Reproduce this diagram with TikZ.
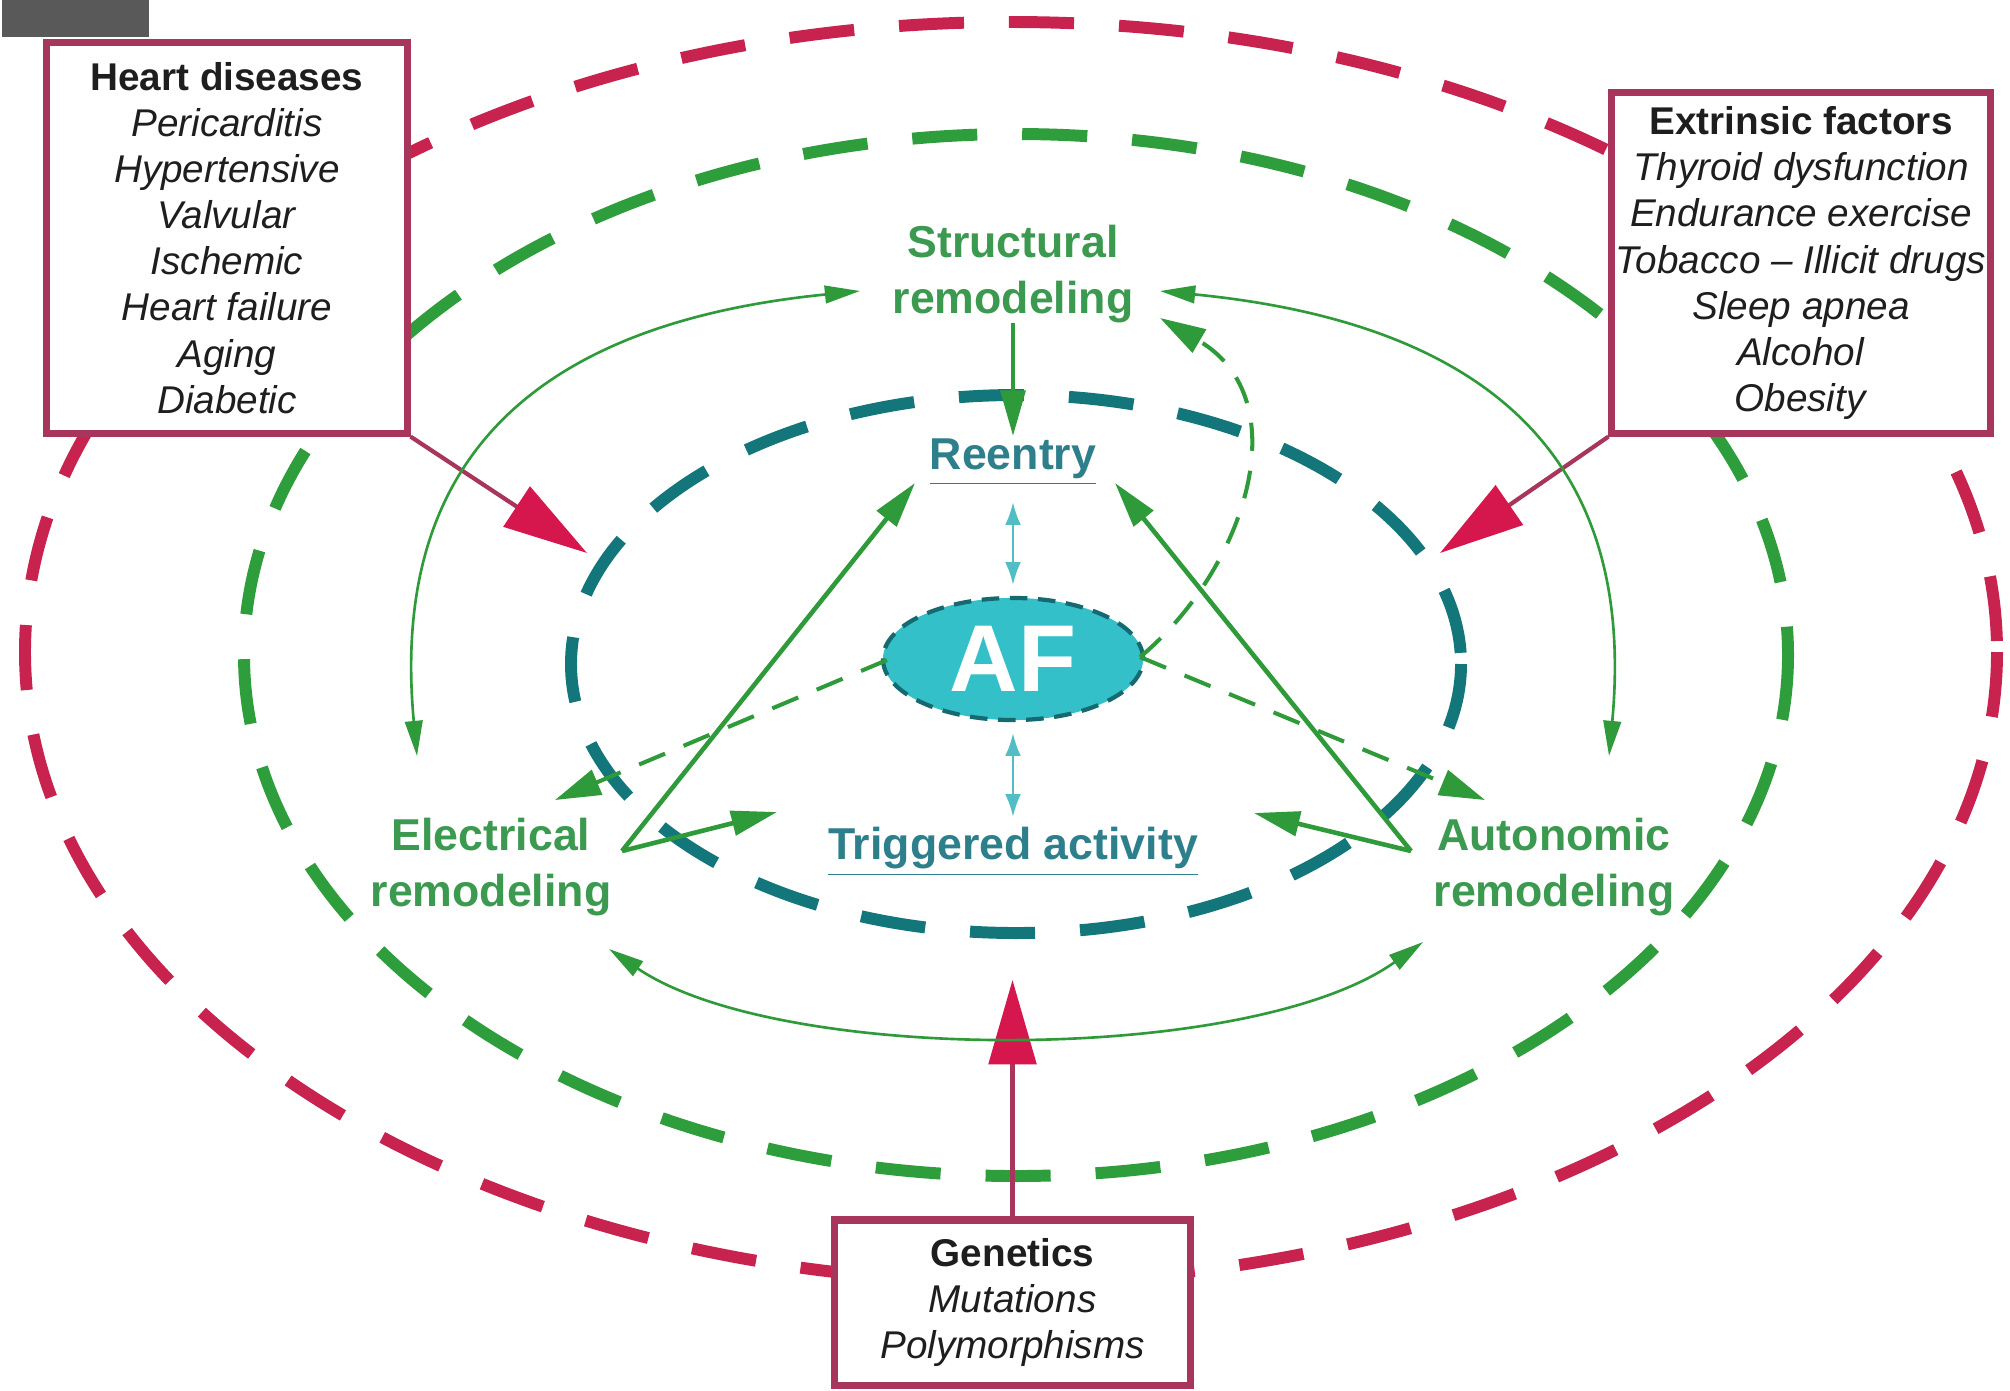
\documentclass[tikz,border=0pt]{standalone}
\usepackage{fontspec}
\setmainfont{Liberation Sans}
\usetikzlibrary{arrows.meta,shapes.geometric}
\definecolor{redd}{HTML}{C8234F}
\definecolor{boxred}{HTML}{A8365C}
\definecolor{headred}{HTML}{D5174D}
\definecolor{grn}{HTML}{2E9E3C}
\definecolor{grntxt}{HTML}{3C9A50}
\definecolor{arrgrn}{HTML}{2F9A3A}
\definecolor{tealone}{HTML}{12767A}
\definecolor{tealtxt}{HTML}{2E7F8C}
\definecolor{afill}{HTML}{33C0C8}
\definecolor{afborder}{HTML}{146A70}
\definecolor{lteal}{HTML}{52BEC4}
\definecolor{boxtxt}{HTML}{1E1E1E}
\begin{document}
\begin{tikzpicture}[x=0.01cm,y=-0.01cm,
  bigdash/.style={line width=3.4pt, dash pattern=on 18.5pt off 12.8pt},
  factorbox/.style={draw=boxred, line width=2pt, fill=white, align=center, inner sep=0pt, text=boxtxt, font=\fontsize{11}{13.1}\selectfont},
  grnlabel/.style={text=grntxt, font=\bfseries\fontsize{12.7}{15.9}\selectfont, align=center, inner sep=1pt},
  mechlabel/.style={text=tealtxt, font=\bfseries\fontsize{12.7}{15.9}\selectfont, inner sep=1pt},
  afnode/.style={ellipse, fill=afill, draw=afborder, line width=1.2pt, dash pattern=on 5pt off 3pt, text=white, font=\bfseries\fontsize{27}{30}\selectfont, inner sep=0pt, minimum width=2.6cm, minimum height=1.22cm},
  thickarr/.style={arrgrn, line width=1.3pt, -{Triangle[length=13pt,width=7pt]}},
  thinarr/.style={arrgrn, line width=0.75pt, {Triangle[length=10pt,width=5pt]}-{Triangle[length=10pt,width=5pt]}},
  dasharr/.style={arrgrn, line width=1.15pt, dash pattern=on 8pt off 5.7pt, -{Triangle[length=13pt,width=7.5pt]}},
  ltarr/.style={lteal, line width=0.8pt, {Latex[length=6.5pt,width=4.5pt]}-{Latex[length=6.5pt,width=4.5pt]}},
  redarr/.style={boxred, line width=1.2pt, -{Triangle[length=24pt,width=13.5pt,color=headred]}}
]
\useasboundingbox[fill=white] (0,0) rectangle (2010,1390);

% gray tab
\fill[black!65] (2,0) rectangle (149,37);

% concentric dashed ellipses
\draw[redd, bigdash] (1011,652) ellipse [x radius=986, y radius=630];
\draw[grn, bigdash] (1016,655) ellipse [x radius=772, y radius=521];
\draw[tealone, bigdash] (1016,664) ellipse [x radius=445, y radius=269];

% factor boxes
\node[factorbox, minimum width=3.6cm, minimum height=3.9cm] (heart) at (227,238)
  {\textbf{Heart diseases}\\\textit{Pericarditis}\\\textit{Hypertensive}\\\textit{Valvular}\\\textit{Ischemic}\\\textit{Heart failure}\\\textit{Aging}\\\textit{Diabetic}};
\node[factorbox, minimum width=3.78cm, minimum height=3.4cm] (extr) at (1801,263)
  {\textbf{Extrinsic factors}\\\textit{Thyroid dysfunction}\\\textit{Endurance exercise}\\\textit{Tobacco – Illicit drugs}\\\textit{Sleep apnea}\\\textit{Alcohol}\\\textit{Obesity}};
\node[factorbox, minimum width=3.55cm, minimum height=1.65cm] (gen) at (1012.5,1302.5)
  {\textbf{Genetics}\\\textit{Mutations}\\\textit{Polymorphisms}};

% labels
\node[grnlabel] (struct) at (1013,274) {Structural\\remodeling};
\node[grnlabel] (elec) at (491,867) {Electrical\\remodeling};
\node[grnlabel] (auton) at (1554,867) {Autonomic\\remodeling};
\node[mechlabel] (reentry) at (1013,462) {\underline{Reentry}};
\node[mechlabel] (trig) at (1013,852) {\underline{Triggered activity}};
\node[afnode] (af) at (1013,659) {AF};

% coordinates
\coordinate (hdtip) at (587,553);
\coordinate (extip) at (1440,553);
\coordinate (gntip) at (1012.5,980);
\coordinate (eV) at (622,851);
\coordinate (aV) at (1411,851);
\coordinate (reL) at (915,483);
\coordinate (reR) at (1115,483);
\coordinate (trL) at (777,812);
\coordinate (trR) at (1254,813);
\coordinate (stTop) at (1013,323);
\coordinate (reTop) at (1013,436);
\coordinate (afL) at (887,660);
\coordinate (afR) at (1140,657);
\coordinate (elTip) at (555,800);
\coordinate (auTip) at (1485,800);
\coordinate (stR) at (1160,318);
\coordinate (arcLa) at (417,756);
\coordinate (arcLb) at (860,291);
\coordinate (arcRa) at (1609,756);
\coordinate (arcRb) at (1160,291);
\coordinate (arcBa) at (609,949);
\coordinate (arcBb) at (1423,942);
\coordinate (reBot) at (1013,502);
\coordinate (afTop) at (1013,585);
\coordinate (afBot) at (1013,733);
\coordinate (trTop) at (1013,817);

% red arrows
\draw[redarr] (heart.south east) -- (hdtip);
\draw[redarr] (extr.south west) -- (extip);
\draw[redarr] (gen.north) -- (gntip);

% thin green arcs
\draw[thinarr] (arcLa) .. controls (395,520) and (470,330) .. (arcLb);
\draw[thinarr] (arcRa) .. controls (1631,520) and (1556,330) .. (arcRb);
\draw[thinarr] (arcBa) .. controls (780,1065) and (1250,1065) .. (arcBb);

% thick green arrows
\draw[thickarr] (stTop) -- (reTop);
\draw[thickarr] (eV) -- (reL);
\draw[thickarr] (eV) -- (trL);
\draw[thickarr] (aV) -- (reR);
\draw[thickarr] (aV) -- (trR);

% dashed green arrows from AF
\draw[dasharr] (afL) -- (elTip);
\draw[dasharr] (afR) -- (auTip);
\draw[dasharr] (afR) .. controls (1245,570) and (1300,400) .. (stR);

% light teal double arrows
\draw[ltarr] (reBot) -- (afTop);
\draw[ltarr] (afBot) -- (trTop);
\end{tikzpicture}
\end{document}
